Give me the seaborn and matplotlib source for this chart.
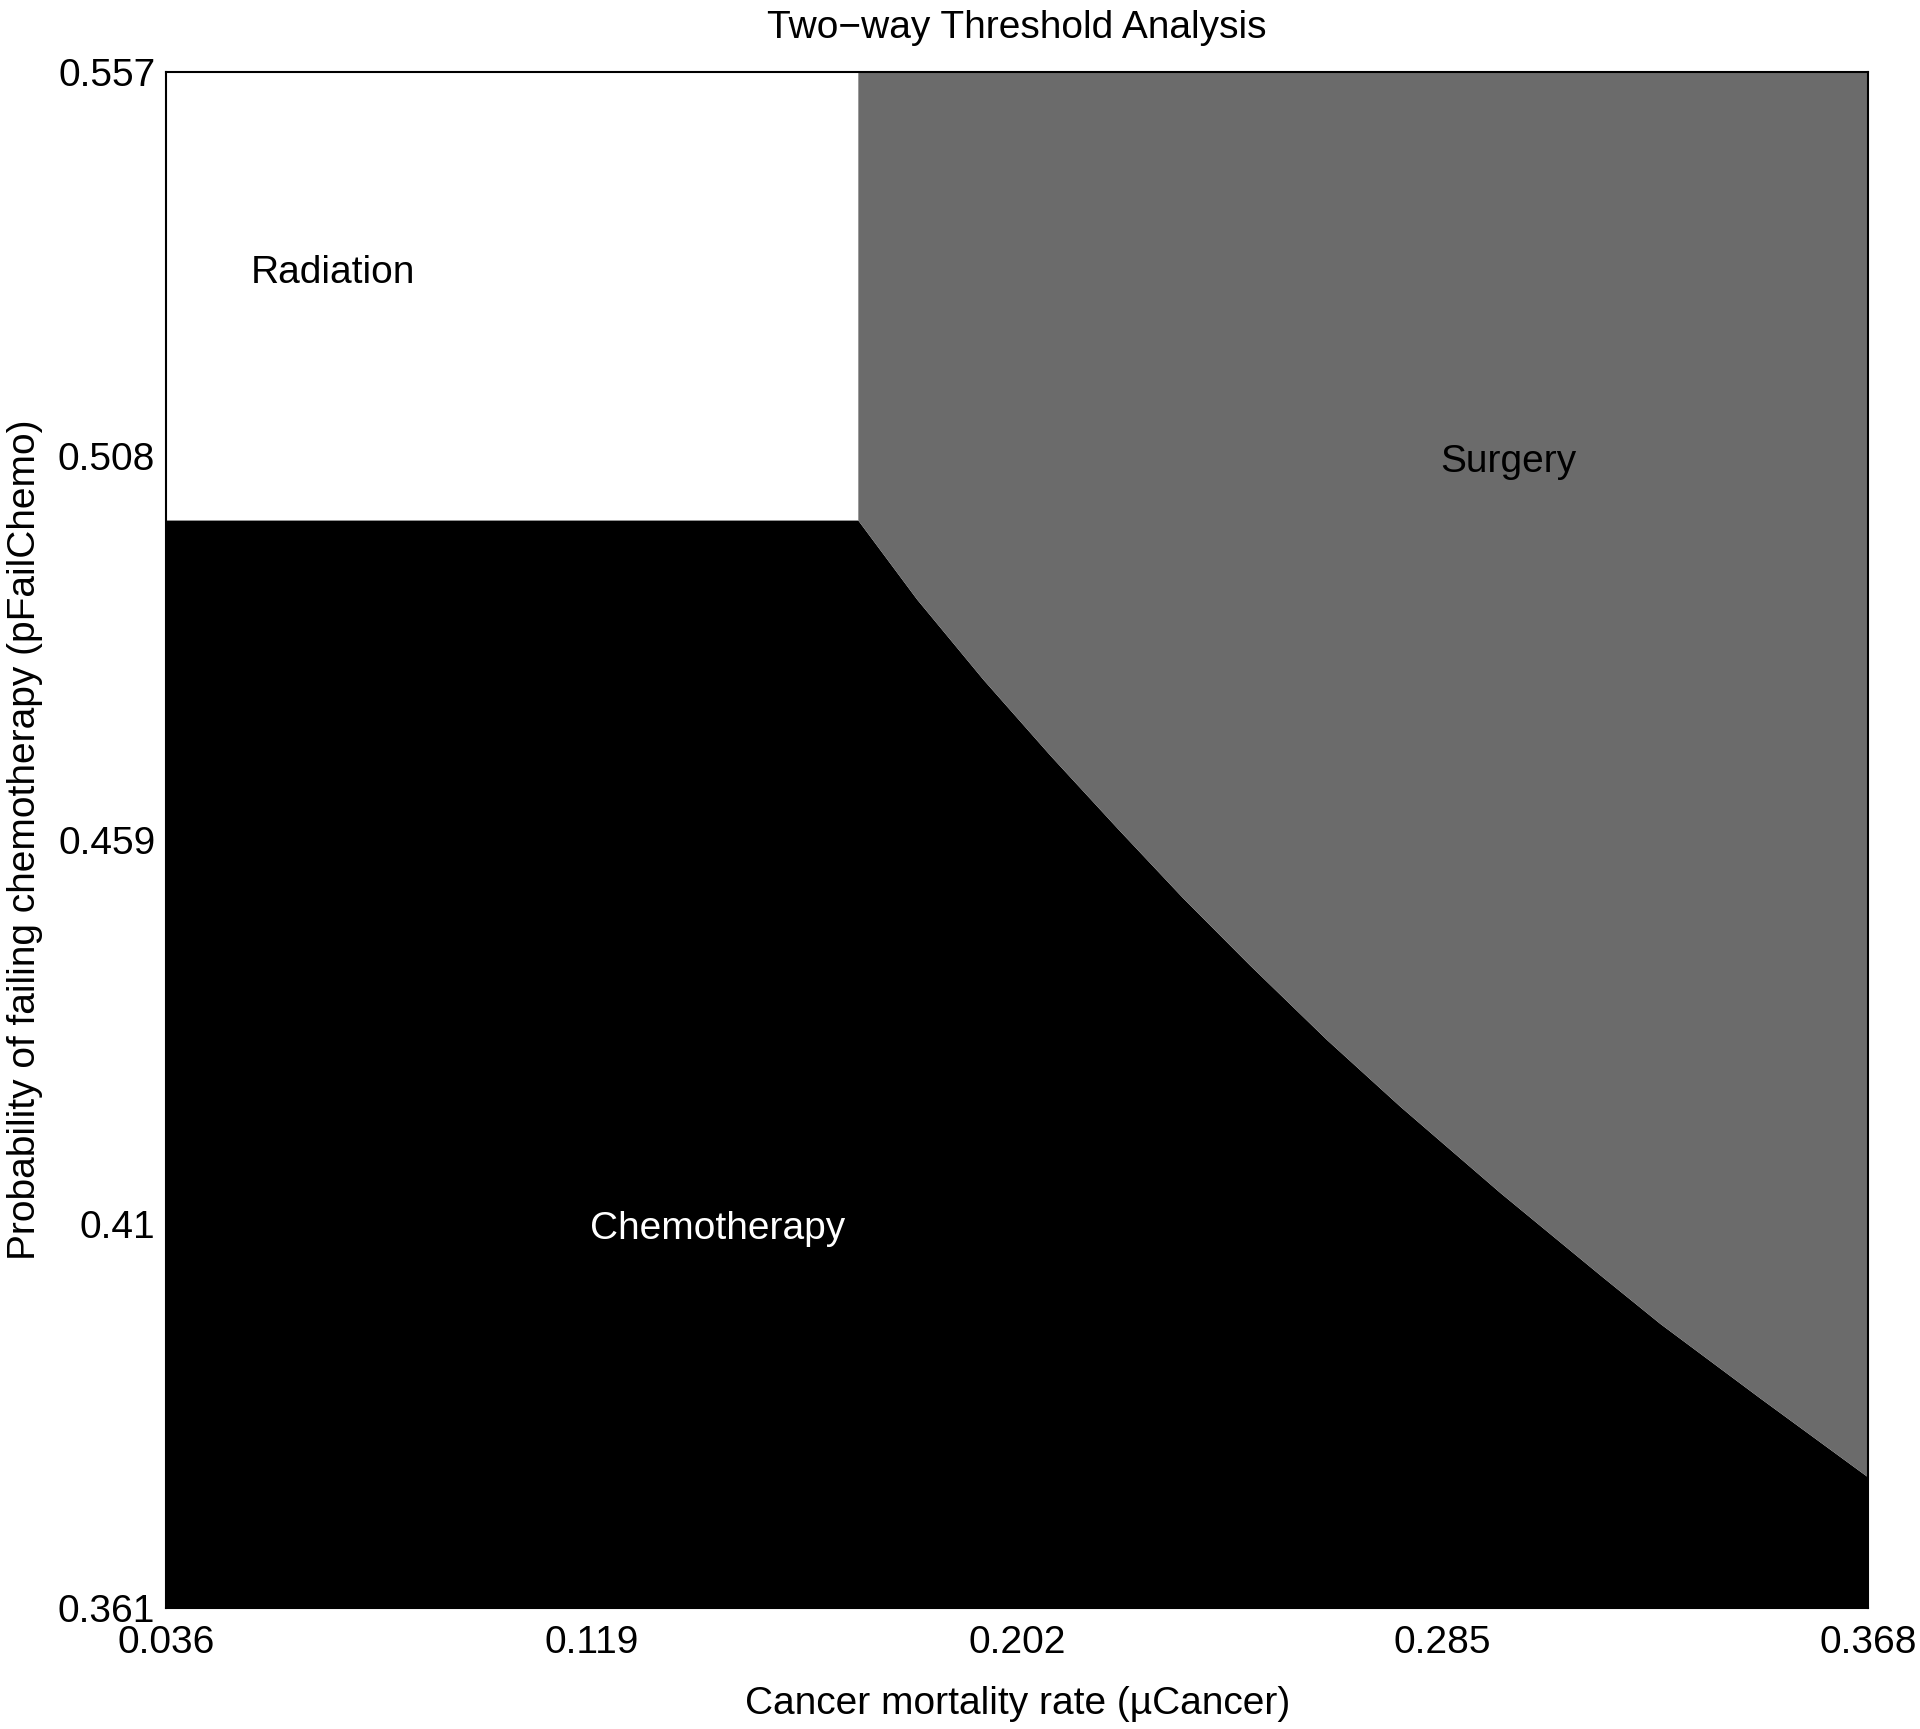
import matplotlib
matplotlib.use('Agg')
import matplotlib.pyplot as plt
import seaborn as sns

# axis ranges and tick labels
mu_ticks = [0.036, 0.119, 0.202, 0.285, 0.368]
mu_tick_labels = ['0.036', '0.119', '0.202', '0.285', '0.368']
p_ticks = [0.361, 0.410, 0.459, 0.508, 0.557]
p_tick_labels = ['0.361', '0.41', '0.459', '0.508', '0.557']

# thresholds
radiation_mu_max = 0.1709     # radiation / surgery border
radiation_p_min = 0.4998      # radiation / chemotherapy border

# chemotherapy / surgery border
boundary_mu = [0.1709, 0.1824, 0.1953, 0.2084, 0.2215, 0.2343, 0.2474,
               0.2624, 0.2767, 0.2962, 0.3157, 0.3274, 0.3469, 0.368]
boundary_p = [0.4998, 0.4897, 0.4795, 0.4698, 0.4605, 0.4516, 0.4430,
              0.4335, 0.4250, 0.4140, 0.4035, 0.3973, 0.3878, 0.3777]

region_names = ['Radiation', 'Surgery', 'Chemotherapy']
label_mu = [0.0685, 0.2978, 0.1436]
label_p = [0.5300, 0.5059, 0.4081]
label_colors = ['black', 'black', 'white']

SURGERY_GRAY = '#6b6b6b'


def threshold_plot():
    sns.set_theme(style='white')
    plt.rcParams['font.family'] = ['Liberation Sans', 'DejaVu Sans']

    fig = plt.figure(figsize=(19.2, 17.29), dpi=100)
    ax = fig.add_axes([0.0867, 0.0700, 0.9729 - 0.0867, 0.9585 - 0.0700])

    mu_min, mu_max = mu_ticks[0], mu_ticks[-1]
    p_min, p_max = p_ticks[0], p_ticks[-1]

    # chemotherapy region (below the border)
    chemo_mu = [mu_min] + boundary_mu
    chemo_top = [radiation_p_min] + boundary_p
    ax.fill_between(chemo_mu, p_min, chemo_top, color='black', linewidth=0)
    # surgery region (above the border)
    ax.fill_between(boundary_mu, boundary_p, p_max, color=SURGERY_GRAY, linewidth=0)
    # radiation stays white
    ax.fill_between([mu_min, radiation_mu_max], radiation_p_min, p_max,
                    color='white', linewidth=0)

    for name, x, y, c in zip(region_names, label_mu, label_p, label_colors):
        ax.text(x, y, name, color=c, fontsize=28, ha='center', va='baseline')

    ax.set_xlim(mu_min, mu_max)
    ax.set_ylim(p_min, p_max)
    ax.set_xticks(mu_ticks)
    ax.set_xticklabels(mu_tick_labels)
    ax.set_yticks(p_ticks)
    ax.set_yticklabels(p_tick_labels)
    ax.tick_params(axis='both', direction='in', length=13, width=1.3,
                   color='black', labelsize=28, labelcolor='black',
                   top=True, right=True)
    ax.tick_params(axis='x', pad=12)
    ax.tick_params(axis='y', pad=8)

    for spine in ax.spines.values():
        spine.set_visible(True)
        spine.set_color('black')
        spine.set_linewidth(1.5)

    ax.set_xlabel('Cancer mortality rate (\u00b5Cancer)', fontsize=28, labelpad=18, color='black')
    ax.set_ylabel('Probability of failing chemotherapy (pFailChemo)', fontsize=28,
                  labelpad=11, color='black')
    ax.set_title('Two\u2212way Threshold Analysis', fontsize=28, pad=24, color='black')

    fig.savefig('out.png', dpi=100)


if __name__ == '__main__':
    threshold_plot()
